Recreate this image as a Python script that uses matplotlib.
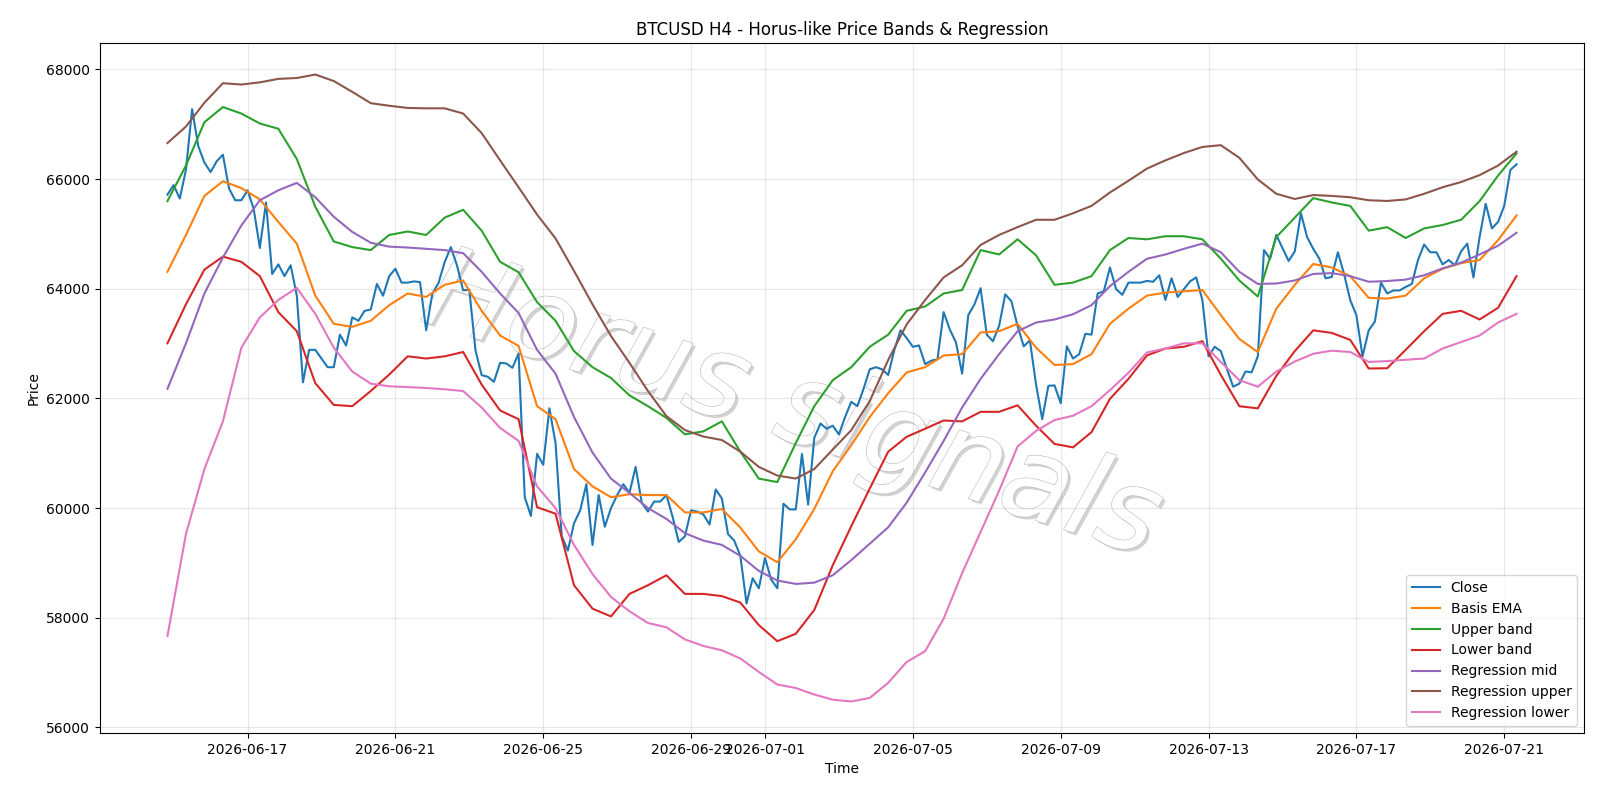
import matplotlib
matplotlib.use("Agg")
import matplotlib.pyplot as plt
import matplotlib.patheffects as pe
import pandas as pd

# H4 bars, first bar 2026-06-14 20:00
times = pd.date_range("2026-06-14 20:00", periods=220, freq="4h")
t12 = times[::3]  # smooth series read every 12h

close = [
    65715, 65889, 65644, 66166, 67273, 66601, 66300, 66127, 66324, 66443,
    65826, 65613, 65613, 65795, 65455, 64743, 65573, 64269, 64443, 64229,
    64427, 63873, 62293, 62885, 62885, 62727, 62569, 62569, 63162, 62964,
    63478, 63415, 63597, 63620, 64087, 63873, 64229, 64364, 64111, 64111,
    64133, 64121, 63242, 63909, 64103, 64485, 64758, 64424, 63970, 63982,
    62879, 62424, 62394, 62303, 62649, 62637, 62558, 62818, 60198, 59858,
    60988, 60790, 61818, 61186, 59486, 59225, 59723, 59960, 60435, 59328,
    60237, 59660, 60000, 60237, 60435, 60277, 60751, 60095, 59937, 60119,
    60119, 60237, 59842, 59383, 59486, 59960, 59937, 59882, 59700, 60340,
    60174, 59526, 59407, 59130, 58261, 58719, 58538, 59091, 58696, 58538,
    60079, 59976, 59976, 60988, 60063, 61281, 61542, 61447, 61502, 61344,
    61660, 61937, 61858, 62174, 62530, 62569, 62530, 62427, 62885, 63241,
    63100, 62941, 62965, 62625, 62688, 62712, 63573, 63257, 63020, 62451,
    63518, 63715, 64008, 63162, 63043, 63320, 63897, 63771, 63320, 62949,
    63059, 62253, 61621, 62229, 62237, 61913, 62949, 62727, 62806, 63178,
    63162, 63913, 63953, 64387, 63992, 63889, 64111, 64111, 64111, 64142,
    64126, 64245, 63794, 64190, 63850, 63992, 64134, 64206, 63794, 62767,
    62941, 62862, 62530, 62213, 62269, 62490, 62475, 62767, 64704, 64546,
    64980, 64743, 64506, 64680, 65376, 64941, 64727, 64546, 64190, 64213,
    64664, 64269, 63794, 63518, 62767, 63241, 63399, 64111, 63913, 63968,
    63968, 64032, 64087, 64522, 64806, 64664, 64664, 64443, 64522, 64427,
    64680, 64822, 64206, 64941, 65549, 65099, 65217, 65510, 66166, 66269,
]

basis_ema = [
    64308, 64980, 65692, 65960, 65834, 65629, 65217, 64822, 63874, 63360,
    63304, 63415, 63700, 63913, 63850, 64071, 64150, 63597, 63146, 62957,
    61858, 61621, 60712, 60395, 60198, 60253, 60237, 60237, 59921, 59921,
    59984, 59644, 59210, 59012, 59431, 59984, 60672, 61146, 61660, 62095,
    62474, 62569, 62783, 62806, 63202, 63225, 63360, 62925, 62609, 62625,
    62806, 63360, 63636, 63874, 63929, 63953, 63976, 63518, 63083, 62846,
    63636, 64071, 64451, 64387, 64229, 63834, 63820, 63874, 64190, 64364,
    64467, 64522, 64885, 65336,
]

upper_band = [
    65597, 66245, 67036, 67312, 67194, 67012, 66917, 66364, 65494, 64862,
    64759, 64704, 64980, 65043, 64980, 65296, 65439, 65059, 64490, 64300,
    63755, 63415, 62862, 62569, 62372, 62055, 61858, 61644, 61344, 61399,
    61581, 61028, 60537, 60474, 61186, 61858, 62332, 62569, 62941, 63162,
    63597, 63676, 63913, 63976, 64704, 64625, 64901, 64609, 64071, 64111,
    64229, 64704, 64925, 64901, 64957, 64957, 64901, 64546, 64150, 63858,
    64941, 65296, 65652, 65573, 65510, 65059, 65122, 64925, 65099, 65162,
    65257, 65597, 66063, 66466,
]

lower_band = [
    63004, 63715, 64348, 64585, 64490, 64229, 63573, 63225, 62277, 61881,
    61858, 62134, 62435, 62767, 62727, 62767, 62846, 62253, 61779, 61621,
    60016, 59897, 58593, 58166, 58024, 58435, 58593, 58775, 58435, 58435,
    58395, 58277, 57866, 57573, 57708, 58142, 58957, 59668, 60356, 61028,
    61300, 61447, 61597, 61581, 61755, 61755, 61874, 61502, 61170, 61107,
    61384, 61992, 62356, 62783, 62909, 62941, 63043, 62427, 61858, 61818,
    62411, 62862, 63241, 63194, 63067, 62545, 62550, 62885, 63225, 63541,
    63597, 63439, 63652, 64229,
]

reg_mid = [
    62174, 63004, 63913, 64569, 65154, 65613, 65795, 65929, 65668, 65312,
    65036, 64838, 64767, 64751, 64727, 64704, 64648, 64308, 63913, 63557,
    62885, 62451, 61660, 61012, 60537, 60277, 60000, 59802, 59542, 59407,
    59328, 59130, 58854, 58680, 58617, 58640, 58775, 59051, 59350, 59650,
    60100, 60650, 61225, 61834, 62356, 62806, 63225, 63383, 63439, 63534,
    63700, 64047, 64308, 64546, 64624, 64727, 64822, 64664, 64308, 64087,
    64095, 64150, 64269, 64285, 64229, 64127, 64140, 64166, 64245, 64371,
    64474, 64625, 64783, 65020,
]

reg_upper = [
    66656, 66957, 67391, 67747, 67723, 67763, 67826, 67842, 67905, 67787,
    67589, 67383, 67336, 67296, 67289, 67289, 67194, 66838, 66340, 65850,
    65352, 64917, 64324, 63715, 63138, 62648, 62134, 61676, 61423, 61304,
    61241, 61028, 60751, 60593, 60538, 60712, 61067, 61420, 61950, 62700,
    63350, 63794, 64206, 64427, 64798, 64980, 65123, 65257, 65257, 65375,
    65510, 65755, 65968, 66190, 66340, 66474, 66585, 66617, 66387, 65992,
    65731, 65636, 65708, 65692, 65668, 65613, 65600, 65628, 65731, 65850,
    65945, 66071, 66245, 66498,
]

reg_lower = [
    57668, 59526, 60712, 61581, 62925, 63478, 63795, 64016, 63542, 62925,
    62490, 62269, 62221, 62206, 62190, 62166, 62134, 61834, 61462, 61225,
    60395, 60000, 59328, 58798, 58379, 58118, 57905, 57826, 57605, 57486,
    57407, 57257, 57012, 56783, 56719, 56601, 56506, 56474, 56538, 56814,
    57194, 57391, 57984, 58814, 59565, 60316, 61123, 61407, 61605, 61684,
    61858, 62150, 62467, 62838, 62909, 63004, 63004, 62664, 62332, 62213,
    62490, 62672, 62814, 62870, 62846, 62664, 62680, 62704, 62727, 62909,
    63028, 63146, 63383, 63542,
]

fig, ax = plt.subplots(figsize=(16, 8), dpi=100)

ax.plot(times, close, label="Close")
ax.plot(t12, basis_ema, label="Basis EMA")
ax.plot(t12, upper_band, label="Upper band")
ax.plot(t12, lower_band, label="Lower band")
ax.plot(t12, reg_mid, label="Regression mid")
ax.plot(t12, reg_upper, label="Regression upper")
ax.plot(t12, reg_lower, label="Regression lower")

# watermark
ax.text(0.495, 0.49, "Horus signals", transform=fig.transFigure,
        fontsize=82, fontstyle="italic", fontweight="light", color="white",
        ha="center", va="center", rotation=-18, zorder=0,
        path_effects=[pe.SimplePatchShadow(offset=(2, -2), shadow_rgbFace="gray", alpha=0.35),
                      pe.Stroke(linewidth=0.8, foreground="#b8b8b8"),
                      pe.Normal()])

ax.set_title("BTCUSD H4 - Horus-like Price Bands & Regression")
ax.set_xlabel("Time")
ax.set_ylabel("Price")
ax.grid(True, alpha=0.3)
ax.legend(loc="lower right")

plt.subplots_adjust(left=0.0625, right=0.99, top=0.946, bottom=0.084)
plt.savefig("out.png")
